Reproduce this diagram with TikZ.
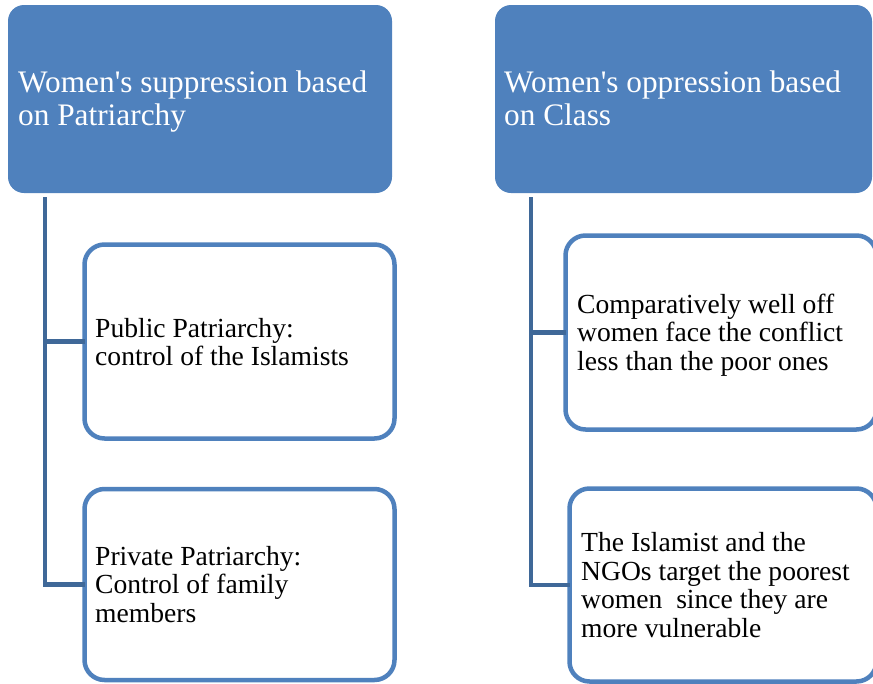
\documentclass[tikz,border=0pt]{standalone}
\usepackage{fontspec}
\setmainfont{Liberation Serif}[Ligatures=TeXOff]
\usetikzlibrary{calc}
\definecolor{boxblue}{HTML}{4F81BD}
\definecolor{linkblue}{HTML}{3F6898}
\begin{document}
\begin{tikzpicture}[x=1pt,y=-1pt,
  headbox/.style={fill=boxblue, draw=none, rounded corners=16pt, anchor=north west, inner sep=0pt, outer sep=0pt},
  childbox/.style={draw=boxblue, line width=4.5pt, fill=white, rounded corners=20pt, anchor=north west, inner sep=0pt, outer sep=0pt},
  headtext/.style={text=white, font=\fontsize{31.3}{33.5}\selectfont, align=left, anchor=base west, inner sep=0pt},
  childtext/.style={text=black, font=\fontsize{27.6}{28.5}\selectfont, align=left, anchor=base west, inner sep=0pt},
  link/.style={draw=linkblue, line width=4.5pt}]
\useasboundingbox (0,0) rectangle (873,683);
\clip (0,0) rectangle (873,683);
% top boxes
\node[headbox, minimum width=384pt, minimum height=188pt] (TL) at (8,5) {};
\node[headbox, minimum width=377pt, minimum height=188pt] (TR) at (495,5) {};
% child boxes
\node[childbox, minimum width=310pt, minimum height=194pt] (L1) at (84.5,244.5) {};
\node[childbox, minimum width=310pt, minimum height=191pt] (L2) at (84.5,489) {};
\node[childbox, minimum width=311pt, minimum height=194pt] (R1) at (565.5,235.5) {};
\node[childbox, minimum width=307pt, minimum height=193pt] (R2) at (569.5,488.5) {};
% connectors
\coordinate (lt) at ($(TL.south west)+(37,4)$);
\coordinate (rt) at ($(TR.south west)+(36,4)$);
\draw[link] (lt) |- (L2.west);
\draw[link] (lt) |- (L1.west);
\draw[link] (rt) |- (R2.west);
\draw[link] (rt) |- (R1.west);
% texts (anchor = baseline of the last line)
\node[headtext] (TLt) at (18,125.5) {Women's suppression based\\on Patriarchy};
\node[headtext] (TRt) at (504,125.5) {Women's oppression based\\on Class};
\node[childtext] (L1t) at (95,365.5) {Public Patriarchy:\\control of the Islamists};
\node[childtext] (L2t) at (95,622) {Private Patriarchy:\\Control of family\\members};
\node[childtext] (R1t) at (577,370) {Comparatively well off\\women face the conflict\\less than the poor ones};
\node[childtext] (R2t) at (581,637) {The Islamist and the\\NGOs target the poorest\\women\ \ since they are\\more vulnerable};
\end{tikzpicture}
\end{document}
